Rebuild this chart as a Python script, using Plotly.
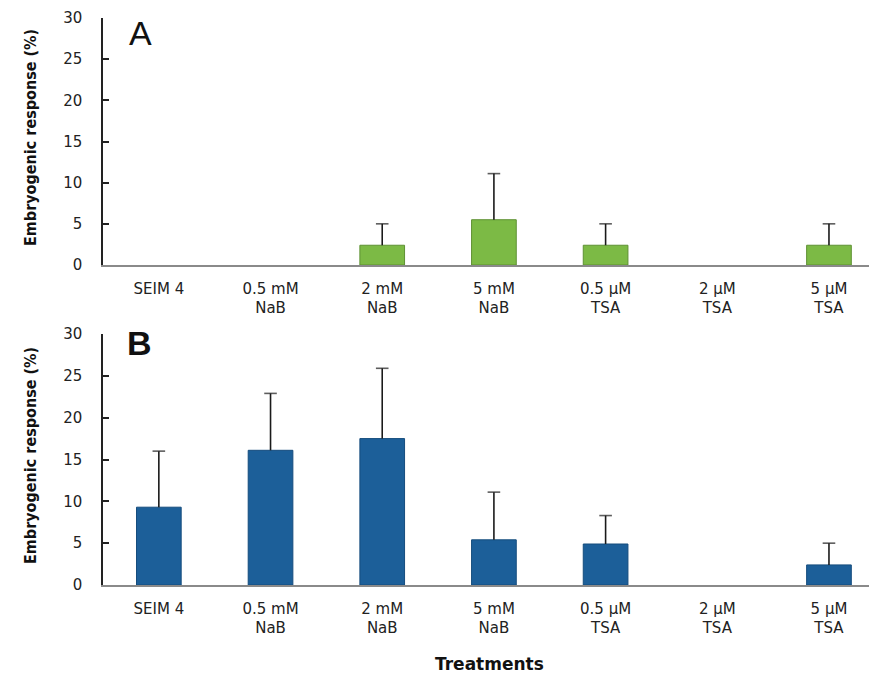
import plotly.graph_objects as go

categories = ["SEIM 4", "0.5 mM<br>NaB", "2 mM<br>NaB", "5 mM<br>NaB",
              "0.5 µM<br>TSA", "2 µM<br>TSA", "5 µM<br>TSA"]
a_values = [0, 0, 2.4, 5.5, 2.4, 0, 2.4]
a_upper = [0, 0, 5.0, 11.1, 5.0, 0, 5.0]
b_values = [9.3, 16.1, 17.5, 5.4, 4.9, 0, 2.4]
b_upper = [16.0, 22.9, 25.9, 11.1, 8.3, 0, 5.0]
y_ticks = [0, 5, 10, 15, 20, 25, 30]

x_idx = list(range(len(categories)))

# page offset of the plot div (default body margin)
OX, OY = 8, 8
W, H = 877 - OX, 678 - OY
L = 103 - OX

fig = go.Figure()

def add_panel(values, upper, color, line_color, xa, ya):
    fig.add_trace(go.Bar(
        x=x_idx, y=[v if v > 0 else None for v in values], width=0.4,
        marker=dict(color=color, line=dict(color=line_color, width=1)),
        xaxis=xa, yaxis=ya, showlegend=False, hoverinfo="skip"))
    ex, ey, es = [], [], []
    for i, v, u in zip(x_idx, values, upper):
        if u > 0:
            ex += [i, i, None]
            ey += [v, u, None]
            es += [0, 9, 0]
    fig.add_trace(go.Scatter(
        x=ex, y=ey, mode="lines+markers",
        line=dict(color="#1a1a1a", width=1.6),
        marker=dict(symbol="line-ew", size=es, line=dict(color="#1a1a1a", width=1.6)),
        xaxis=xa, yaxis=ya, showlegend=False, hoverinfo="skip", cliponaxis=False))

add_panel(a_values, a_upper, "#7cba45", "#5e9133", "x", "y")
add_panel(b_values, b_upper, "#1c5f99", "#154c7d", "x2", "y2")

tickfont = dict(family="DejaVu Sans", size=15, color="#222")

xcommon = dict(range=[-0.5, 6.43], tickmode="array", tickvals=x_idx,
               ticktext=categories, showline=True, linecolor="#8a8a8a",
               linewidth=1.5, ticks="", showgrid=False, zeroline=False,
               tickfont=tickfont, ticklabelstandoff=9, domain=[0, 1],
               automargin=False)
ycommon = dict(range=[0, 30], tickmode="array", tickvals=y_ticks,
               showline=True, linecolor="#222", linewidth=1.5,
               ticks="inside", ticklen=6, tickcolor="#222", tickwidth=1.5,
               showgrid=False, zeroline=False, tickfont=tickfont,
               ticklabelstandoff=16, automargin=False)

def py(yp):
    return 1 - (yp - OY) / H

def px(xp):
    return (xp - OX - L) / (W - L)

fig.update_layout(
    width=W, height=H,
    margin=dict(l=L, r=0, t=0, b=0),
    plot_bgcolor="white", paper_bgcolor="white",
    xaxis=dict(**xcommon, anchor="y"),
    yaxis=dict(**ycommon, domain=[py(265), py(18)], anchor="x"),
    xaxis2=dict(**xcommon, anchor="y2"),
    yaxis2=dict(**ycommon, domain=[py(585), py(334)], anchor="x2"),
)

title_font = dict(family="DejaVu Sans Condensed, DejaVu Sans", size=16,
                  color="#111", weight="bold")
fig.add_annotation(text="Embryogenic response (%)", x=px(30), y=py(138),
                   xref="paper", yref="paper", textangle=-90, showarrow=False,
                   font=title_font, xanchor="center", yanchor="middle")
fig.add_annotation(text="Embryogenic response (%)", x=px(30), y=py(456),
                   xref="paper", yref="paper", textangle=-90, showarrow=False,
                   font=title_font, xanchor="center", yanchor="middle")
panel_font = dict(family="Liberation Sans", size=34, color="#111")
fig.add_annotation(text="A", x=px(140), y=py(33), xref="paper", yref="paper",
                   showarrow=False, font=panel_font, xanchor="center", yanchor="middle")
fig.add_annotation(text="B", x=px(139), y=py(343), xref="paper", yref="paper",
                   showarrow=False, font=dict(panel_font, weight="bold"),
                   xanchor="center", yanchor="middle")
fig.add_annotation(text="Treatments", x=px(489), y=py(664), xref="paper", yref="paper",
                   showarrow=False,
                   font=dict(family="DejaVu Sans", size=17, color="#111", weight="bold"),
                   xanchor="center", yanchor="middle")

fig.write_html("out.html")
